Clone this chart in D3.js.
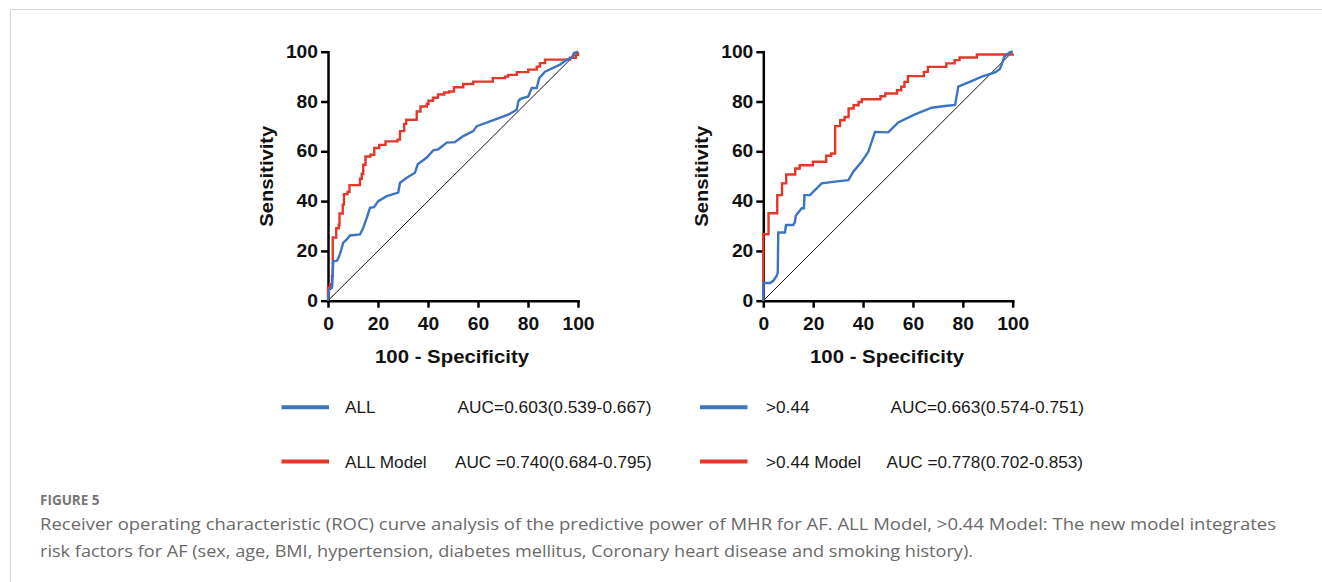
<!DOCTYPE html>
<html>
<head>
<meta charset="utf-8">
<script src="https://cdn.jsdelivr.net/npm/d3@7/dist/d3.min.js"></script>
<style>
  html, body { margin: 0; padding: 0; background: #fff; }
  svg { display: block; }
</style>
</head>
<body>
<svg id="chart" width="1322" height="582"></svg>
<script>
// ---------------- DATA ----------------
const tickValues = [0, 20, 40, 60, 80, 100];
const xTitle = "100 - Specificity";
const yTitle = "Sensitivity";

// Left panel: ALL (blue) – polyline
const allFpr = [0, 0.5, 1.6, 2.1, 3.5, 4.1, 5.1, 6.1, 7.5, 8.8, 12.8, 14.1, 15.5, 16.8, 18.4, 20.1, 23.5, 28.1, 28.8, 31.5, 34.8, 35.9, 39.5, 42.1, 44.1, 47.5, 50.8, 54.1, 58.1, 59.5, 64.8, 72.1, 75.5, 76.1, 76.8, 80.1, 81.5, 83.5, 84.5, 86.8, 92.8, 95.5, 97.5, 98.4, 100];
const allTpr = [0, 4.5, 5.2, 15.9, 16, 17, 19.7, 23.3, 24.6, 26.2, 26.6, 29.3, 33.3, 37.3, 37.6, 40, 42, 43.4, 47.4, 49.4, 51.4, 54.8, 57.5, 60.4, 60.8, 63.5, 63.7, 66.1, 68.1, 70.1, 72, 74.7, 76.7, 80, 81, 82, 85.4, 85.4, 89.4, 92, 94.8, 96.8, 97.5, 99.5, 100];

// Left panel: ALL Model (red) – step curve
const allModelFpr = [0, 0, 0.8, 1.6, 1.9, 3.3, 4.3, 4.6, 5.9, 6.4, 7.8, 8.6, 12.8, 13.5, 14.1, 15, 17, 18.5, 20.5, 23, 27.8, 28.8, 30.5, 31.3, 35.5, 37, 39.5, 40.2, 42, 44, 46.5, 48.5, 50.4, 54.1, 58.1, 65.9, 70.8, 72.1, 75.5, 80.1, 83.5, 84.8, 86.8, 96.8, 99.2, 100];
const allModelTpr = [0, 5.3, 6.6, 9.8, 25.4, 29.1, 30.5, 35, 38.6, 42.8, 43.7, 46.4, 49, 51, 54.6, 57.9, 58.6, 61.3, 62.6, 64, 64.7, 68.1, 71, 72.7, 76, 78, 79, 80.3, 81.5, 82.8, 83.6, 84, 85.7, 87, 88, 89.4, 90, 90.7, 91.8, 92.8, 94, 95.4, 96.8, 97.6, 98.8, 100];

// Right panel: >0.44 (blue) – polyline
const hiFpr = [0, 0, 2.7, 4, 5.4, 5.8, 6, 8.7, 9.1, 12, 12.7, 13, 15.4, 16.3, 16.5, 18.7, 20.7, 23.4, 28.7, 34.1, 36.1, 39.4, 42.1, 44.8, 50.1, 54.1, 60.8, 67.5, 72.8, 76.9, 78.2, 83.5, 87.6, 92.9, 94.9, 96.7, 98.9, 100];
const hiTpr = [0, 7.1, 7.1, 8, 10, 11.4, 27.4, 27.4, 30.4, 30.4, 31.7, 34.1, 37.1, 37.1, 42.4, 42.4, 44.4, 47.1, 47.8, 48.4, 51.8, 55.8, 59.8, 67.8, 67.6, 71.6, 74.8, 77.5, 78.2, 78.6, 86, 88.2, 90, 91.7, 93.1, 98.1, 99.8, 100];

// Right panel: >0.44 Model (red) – step curve
const hiModelFpr = [0, 0, 2.1, 5.6, 7.5, 9.2, 12.8, 14.6, 19.9, 25.2, 27.2, 28.8, 30.8, 32.6, 34.2, 36.2, 38.2, 39.5, 47, 48.9, 53.6, 55.3, 56.6, 58, 64.4, 66, 73.4, 76.7, 78.7, 85.6, 100];
const hiModelTpr = [0, 26.7, 35.1, 42.4, 47.1, 50.7, 53.1, 54.4, 55.8, 58.2, 59.1, 70.1, 72.5, 73.8, 77.2, 78.5, 79.8, 80.9, 82.1, 83.2, 84.5, 85.9, 87.9, 90.2, 91.9, 93.9, 95.3, 96.6, 97.7, 98.9, 99.3];

const legendLabels = ["ALL", "ALL Model", ">0.44", ">0.44 Model"];
const legendAuc = ["AUC=0.603(0.539-0.667)", "AUC =0.740(0.684-0.795)", "AUC=0.663(0.574-0.751)", "AUC =0.778(0.702-0.853)"];

const figureLabel = "FIGURE 5";
const captionLines = [
  "Receiver operating characteristic (ROC) curve analysis of the predictive power of MHR for AF. ALL Model, >0.44 Model: The new model integrates",
  "risk factors for AF (sex, age, BMI, hypertension, diabetes mellitus, Coronary heart disease and smoking history)."
];

// ---------------- STYLE ----------------
const RED = "#e2382a", BLUE = "#3c74c2";
const FONT = "'Liberation Sans', Arial, sans-serif";
const STRETCH = 1.1;

const svg = d3.select("#chart");

// frame
svg.append("path")
  .attr("d", "M10.5,582 L10.5,9.5 L1322,9.5")
  .attr("fill", "none").attr("stroke", "#d2d2d2").attr("stroke-width", 1);

function stretchText(sel, factor) {
  sel.each(function () {
    const l = this.getComputedTextLength();
    d3.select(this).attr("textLength", l * factor).attr("lengthAdjust", "spacingAndGlyphs");
  });
}

function panel(x0, x1, yTop, yBot, series, yLabelX) {
  const x = d3.scaleLinear().domain([0, 100]).range([x0, x1]);
  const y = d3.scaleLinear().domain([0, 100]).range([yBot, yTop]);
  const g = svg.append("g");

  // diagonal reference
  g.append("line")
    .attr("x1", x(0)).attr("y1", y(0)).attr("x2", x(100)).attr("y2", y(100))
    .attr("stroke", "#111").attr("stroke-width", 1);

  // axes
  const xa = g.append("g").attr("transform", `translate(0,${y(0)})`)
    .call(d3.axisBottom(x).tickValues(tickValues).tickSize(7).tickSizeOuter(0).tickPadding(10));
  const ya = g.append("g").attr("transform", `translate(${x(0)},0)`)
    .call(d3.axisLeft(y).tickValues(tickValues).tickSize(7).tickSizeOuter(0).tickPadding(3));
  [xa, ya].forEach(a => {
    a.select(".domain").attr("stroke", "#000").attr("stroke-width", 2.5).attr("stroke-linecap", "square");
    a.selectAll(".tick line").attr("stroke", "#000").attr("stroke-width", 2.5);
    a.selectAll(".tick text").attr("fill", "#111").style("font-family", FONT)
      .style("font-size", "17.5px").style("font-weight", "bold");
    stretchText(a.selectAll(".tick text"), STRETCH);
  });

  // curves
  series.forEach(s => {
    const pts = s.fpr.map((v, i) => [v, s.tpr[i]]);
    const line = d3.line().x(d => x(d[0])).y(d => y(d[1]))
      .curve(s.step ? d3.curveStepAfter : d3.curveLinear);
    g.append("path").datum(pts).attr("d", line)
      .attr("fill", "none").attr("stroke", s.color).attr("stroke-width", 2.4)
      .attr("stroke-linejoin", "miter");
  });

  // titles
  g.append("text").text(xTitle)
    .attr("x", (x0 + x1) / 2 - 1).attr("y", 363).attr("text-anchor", "middle")
    .style("font-family", FONT).style("font-size", "19px").style("font-weight", "bold")
    .attr("fill", "#111").attr("textLength", 154).attr("lengthAdjust", "spacingAndGlyphs");
  g.append("text").text(yTitle)
    .attr("transform", `translate(${yLabelX},${(yTop + yBot) / 2}) rotate(-90)`)
    .attr("text-anchor", "middle")
    .style("font-family", FONT).style("font-size", "19px").style("font-weight", "bold")
    .attr("fill", "#111").attr("textLength", 101).attr("lengthAdjust", "spacingAndGlyphs");
}

panel(328, 578, 51.7, 300.7, [
  { fpr: allModelFpr, tpr: allModelTpr, color: RED, step: true },
  { fpr: allFpr, tpr: allTpr, color: BLUE, step: false }
], 272.5);

panel(763.3, 1012.7, 51.7, 300.7, [
  { fpr: hiModelFpr, tpr: hiModelTpr, color: RED, step: true },
  { fpr: hiFpr, tpr: hiTpr, color: BLUE, step: false }
], 708);

// ---------------- LEGEND ----------------
const legendItems = [
  { lx: 281.5, tx: 345, ax: 457.5, aw: 194, y: 407.3, color: BLUE },
  { lx: 281.5, tx: 345, ax: 455, aw: 196.7, y: 461.5, color: RED },
  { lx: 700, tx: 766, ax: 890.5, aw: 193.5, y: 407.3, color: BLUE },
  { lx: 700, tx: 766, ax: 886.5, aw: 196.5, y: 461.5, color: RED }
];
const lg = svg.append("g");
legendItems.forEach((it, i) => {
  lg.append("line").attr("x1", it.lx).attr("x2", it.lx + 47.5)
    .attr("y1", it.y).attr("y2", it.y).attr("stroke", it.color).attr("stroke-width", 4);
  const t = lg.append("text").text(legendLabels[i]).attr("x", it.tx).attr("y", it.y + 6)
    .style("font-family", FONT).style("font-size", "16px").attr("fill", "#1a1a1a");
  stretchText(t, 1.075);
  lg.append("text").text(legendAuc[i]).attr("x", it.ax).attr("y", it.y + 6)
    .style("font-family", FONT).style("font-size", "16px").attr("fill", "#1a1a1a")
    .attr("textLength", it.aw).attr("lengthAdjust", "spacingAndGlyphs");
});

// ---------------- CAPTION ----------------
svg.append("text").text(figureLabel).attr("x", 40).attr("y", 505)
  .style("font-family", "'Open Sans', sans-serif").style("font-size", "13.5px")
  .style("font-weight", "bold").attr("fill", "#777");
const capW = [1236, 933];
captionLines.forEach((c, i) => {
  svg.append("text").text(c).attr("x", 40).attr("y", 530 + i * 27)
    .style("font-family", "'Open Sans', sans-serif").style("font-size", "16px")
    .attr("fill", "#6a6a6a").attr("textLength", capW[i]).attr("lengthAdjust", "spacingAndGlyphs");
});
</script>
</body>
</html>
